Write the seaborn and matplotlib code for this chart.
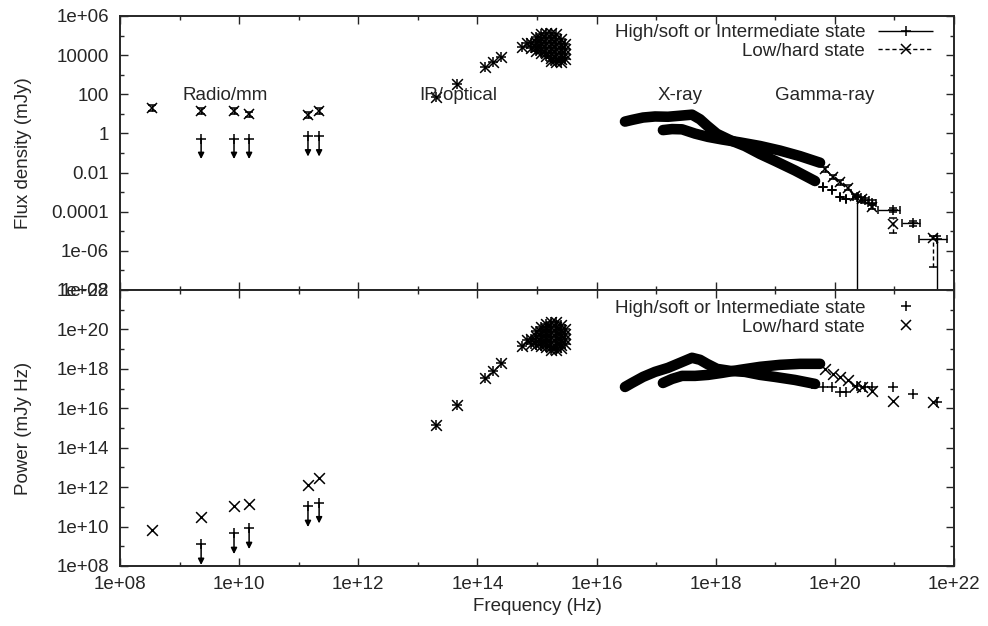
import numpy as np
import matplotlib
matplotlib.use("Agg")
import matplotlib.pyplot as plt
import seaborn as sns
from matplotlib.legend_handler import HandlerErrorbar
from matplotlib.lines import Line2D
from matplotlib.ticker import NullFormatter

# ---------------------------------------------------------------- data
# Radio/mm detections, low/hard state (frequency in Hz, flux density in mJy)
radio_lh_nu = [3.4e8, 2.3e9, 8.2e9, 1.47e10, 1.43e11, 2.2e11]
radio_lh_F = [20, 14, 14, 9.8, 8.7, 14]
radio_lh_Flo = [14, 10, 10, 7.0, 6.3, 10]
radio_lh_Fhi = [27, 19, 19, 13, 12, 19]

# Radio/mm upper limits, high/soft state
radio_hs_ul_nu = [2.3e9, 8.2e9, 1.47e10, 1.43e11, 2.2e11]
radio_hs_ul_F = [0.55, 0.55, 0.55, 0.74, 0.74]

# IR/optical points (same in both states)
ir_nu = [2.02e13, 4.5e13, 1.34e14, 1.82e14, 2.49e14, 5.6e14, 6.8e14]
ir_F = [72, 330, 2480, 4470, 7950, 25700, 41500]

# dense optical/UV cluster (both states)
uv_nu = [7.93e14, 7.93e14,
         9.62e14, 9.62e14, 9.62e14, 9.62e14,
         1.17e15, 1.17e15, 1.17e15, 1.17e15, 1.17e15,
         1.42e15, 1.42e15, 1.42e15, 1.42e15, 1.42e15, 1.42e15,
         1.72e15, 1.72e15, 1.72e15, 1.72e15, 1.72e15, 1.72e15, 1.72e15,
         2.08e15, 2.08e15, 2.08e15, 2.08e15, 2.08e15, 2.08e15, 2.08e15,
         2.53e15, 2.53e15, 2.53e15, 2.53e15, 2.53e15, 2.53e15,
         2.95e15, 2.95e15, 2.95e15, 2.95e15]
uv_F = [4.2e4, 2.3e4,
        8.5e4, 4.7e4, 2.6e4, 1.63e4,
        1.2e5, 6.7e4, 3.7e4, 2.06e4, 1.29e4,
        1.35e5, 7.5e4, 4.2e4, 2.3e4, 1.29e4, 9.0e3,
        1.35e5, 7.5e4, 4.2e4, 2.3e4, 1.29e4, 7.1e3, 5.0e3,
        1.2e5, 6.7e4, 3.7e4, 2.06e4, 1.14e4, 6.4e3, 4.5e3,
        6.7e4, 3.7e4, 2.06e4, 1.14e4, 6.4e3, 4.5e3,
        3.7e4, 2.06e4, 1.14e4, 6.4e3]

# X-ray spectra
xray_hs_nu = [3.0e16, 3.94e16, 6.03e16, 9.57e16, 1.58e17, 2.52e17, 4.0e17, 5.45e17,
              7.14e17, 1.05e18, 1.74e18, 3.10e18, 5.55e18, 9.9e18, 2.14e19, 4.65e19]
xray_hs_F = [4.03, 4.91, 6.49, 7.35, 7.11, 8.04, 9.10, 5.28,
             2.52, 0.95, 0.455, 0.226, 0.0891, 0.0394, 0.0128, 0.0037]
xray_lh_nu = [1.30e17, 1.85e17, 2.72e17, 4.49e17, 7.43e17, 1.28e18, 2.56e18, 5.55e18,
              1.20e19, 2.60e19, 5.64e19]
xray_lh_F = [1.48, 1.67, 1.62, 0.98, 0.665, 0.49, 0.348, 0.228,
             0.133, 0.0692, 0.0319]

# Gamma-ray points, high/soft state
gam_hs_nu = [4.14e19, 6.32e19, 8.95e19, 1.22e20, 1.54e20, 2.36e20, 3.21e20, 4.21e20,
             9.46e20, 2.05e21, 5.19e21]
gam_hs_F = [4.15e-3, 1.91e-3, 1.35e-3, 5.5e-4, 4.37e-4, 5.77e-4, 3.77e-4, 2.87e-4,
            1.28e-4, 2.58e-5, 3.99e-6]
gam_hs_Flo = [4.15e-3, 1.91e-3, 1.35e-3, 5.5e-4, 4.37e-4, 1e-10, 2.8e-4, 2.1e-4,
              1.0e-4, 1.9e-5, 1e-10]
gam_hs_Fhi = [4.15e-3, 1.91e-3, 1.35e-3, 5.5e-4, 4.37e-4, 7.5e-4, 5.0e-4, 3.9e-4,
              1.6e-4, 3.5e-5, 5.5e-6]
gam_hs_nulo = [4.14e19, 6.32e19, 8.95e19, 1.22e20, 1.54e20, 2.05e20, 2.8e20, 3.65e20,
               5.3e20, 1.34e21, 2.6e21]
gam_hs_nuhi = [4.14e19, 6.32e19, 8.95e19, 1.22e20, 1.54e20, 2.7e20, 3.7e20, 4.85e20,
               1.24e21, 2.7e21, 7.6e21]

# Gamma-ray points, low/hard state
gam_lh_nu = [6.84e19, 9.31e19, 1.22e20, 1.66e20, 2.18e20, 2.86e20, 4.21e20, 9.46e20, 4.45e21]
gam_lh_F = [0.0146, 5.97e-3, 3.2e-3, 1.65e-3, 6.24e-4, 4.23e-4, 1.79e-4, 2.46e-5, 4.66e-6]
gam_lh_Flo = [0.011, 4.5e-3, 2.4e-3, 1.24e-3, 4.7e-4, 3.2e-4, 1.35e-4, 8.2e-6, 1.5e-7]
gam_lh_Fhi = [0.0193, 7.9e-3, 4.2e-3, 2.2e-3, 8.3e-4, 5.6e-4, 2.4e-4, 4.8e-5, 6.0e-6]

# region labels (placed in the flux panel)
region_names = ["Radio/mm", "IR/optical", "X-ray", "Gamma-ray"]
region_nu = [5.8e9, 4.7e13, 2.5e17, 6.8e19]
region_F = [85, 85, 85, 85]

# axes ticks
x_ticks = [1e8, 1e10, 1e12, 1e14, 1e16, 1e18, 1e20, 1e22]
x_tick_labels = ["1e+08", "1e+10", "1e+12", "1e+14", "1e+16", "1e+18", "1e+20", "1e+22"]
x_minor = [1e9, 1e11, 1e13, 1e15, 1e17, 1e19, 1e21]
flux_ticks = [1e-8, 1e-6, 1e-4, 1e-2, 1, 1e2, 1e4, 1e6]
flux_tick_labels = ["1e-08", "1e-06", "0.0001", "0.01", "1", "100", "10000", "1e+06"]
flux_minor = [1e-7, 1e-5, 1e-3, 1e-1, 10, 1e3, 1e5]
power_ticks = [1e8, 1e10, 1e12, 1e14, 1e16, 1e18, 1e20, 1e22]
power_tick_labels = ["1e+08", "1e+10", "1e+12", "1e+14", "1e+16", "1e+18", "1e+20", "1e+22"]
power_minor = [1e9, 1e11, 1e13, 1e15, 1e17, 1e19, 1e21]

label_hs = "High/soft or Intermediate state"
label_lh = "Low/hard state"

# ---------------------------------------------------------------- style
sns.set_style("ticks")
plt.rcParams["font.family"] = ["Liberation Sans", "DejaVu Sans"]
plt.rcParams["font.size"] = 13.5
plt.rcParams["axes.linewidth"] = 1.4

MS = 60        # scatter marker area
MSZ = 7.5      # errorbar marker size
BAND_LW = 7.6
ARROW_DEC = 1.05

fig = plt.figure(figsize=(9.88, 6.26), dpi=100)
ax1 = fig.add_axes([120 / 988, 1 - 290 / 626, 834 / 988, 274 / 626])
ax2 = fig.add_axes([120 / 988, 1 - 566 / 626, 834 / 988, 276 / 626])

for ax in (ax1, ax2):
    ax.set_xscale("log")
    ax.set_yscale("log")


def arr(v):
    return np.asarray(v, dtype=float)


def draw(ax, power):
    def val(nu, F):
        return arr(nu) * arr(F) if power else arr(F)

    # X-ray bands
    for nu, F in ((xray_hs_nu, xray_hs_F), (xray_lh_nu, xray_lh_F)):
        sns.lineplot(x=arr(nu), y=val(nu, F), ax=ax, color="black", lw=BAND_LW,
                     estimator=None, sort=False, solid_capstyle="round", zorder=2)
    # points in both states
    for nu, F in ((ir_nu, ir_F), (uv_nu, uv_F)):
        sns.scatterplot(x=arr(nu), y=val(nu, F), ax=ax, marker="+", s=MS,
                        color="black", linewidth=1.1, zorder=3)
        sns.scatterplot(x=arr(nu), y=val(nu, F), ax=ax, marker="x", s=MS,
                        color="black", linewidth=1.1, zorder=3)
    # radio upper limits (high/soft)
    ul = val(radio_hs_ul_nu, radio_hs_ul_F)
    sns.scatterplot(x=arr(radio_hs_ul_nu), y=ul, ax=ax, marker="+", s=MS,
                    color="black", linewidth=1.1, zorder=3)
    for n, v in zip(radio_hs_ul_nu, ul):
        ax.annotate("", xy=(n, v / 10 ** ARROW_DEC), xytext=(n, v),
                    arrowprops=dict(arrowstyle="-|>", color="black", lw=1.1,
                                    mutation_scale=9, shrinkA=0, shrinkB=0))

    if not power:
        # flux panel: error bars
        F = arr(radio_lh_F)
        ax.errorbar(radio_lh_nu, F, yerr=[F - arr(radio_lh_Flo), arr(radio_lh_Fhi) - F],
                    fmt="x", color="black", ms=MSZ, mew=1.1, elinewidth=1.0,
                    capsize=3, zorder=3)
        F = arr(gam_hs_F)
        nu = arr(gam_hs_nu)
        ax.errorbar(nu, F, yerr=[F - arr(gam_hs_Flo), arr(gam_hs_Fhi) - F],
                    xerr=[nu - arr(gam_hs_nulo), arr(gam_hs_nuhi) - nu],
                    fmt="+", color="black", ms=MSZ, mew=1.1, elinewidth=1.0,
                    capsize=3, zorder=3)
        F = arr(gam_lh_F)
        eb = ax.errorbar(gam_lh_nu, F, yerr=[F - arr(gam_lh_Flo), arr(gam_lh_Fhi) - F],
                         fmt="x", color="black", ms=MSZ, mew=1.1, elinewidth=1.0,
                         capsize=3, zorder=3)
        for c in eb[2]:
            c.set_linestyle((0, (3, 2)))
    else:
        sns.scatterplot(x=arr(radio_lh_nu), y=val(radio_lh_nu, radio_lh_F), ax=ax,
                        marker="x", s=MS, color="black", linewidth=1.1, zorder=3)
        sns.scatterplot(x=arr(gam_hs_nu), y=val(gam_hs_nu, gam_hs_F), ax=ax,
                        marker="+", s=MS, color="black", linewidth=1.1, zorder=3)
        sns.scatterplot(x=arr(gam_lh_nu), y=val(gam_lh_nu, gam_lh_F), ax=ax,
                        marker="x", s=MS, color="black", linewidth=1.1, zorder=3)


draw(ax1, False)
draw(ax2, True)

# axes limits / ticks
for ax in (ax1, ax2):
    ax.set_xlim(1e8, 1e22)
    ax.set_xticks(x_ticks)
    ax.set_xticks(x_minor, minor=True)
    ax.xaxis.set_minor_formatter(NullFormatter())
    ax.tick_params(which="both", direction="in", top=True, right=True, width=1.0)
    ax.tick_params(which="major", length=6)
    ax.tick_params(which="minor", length=3)
    ax.tick_params(axis="y", pad=8)
    for s in ax.spines.values():
        s.set_linewidth(1.4)

ax1.set_ylim(1e-8, 1e6)
ax1.set_yticks(flux_ticks, flux_tick_labels)
ax1.set_yticks(flux_minor, minor=True)
ax1.yaxis.set_minor_formatter(NullFormatter())
ax1.set_xticklabels([])

ax2.set_ylim(1e8, 1e22)
ax2.set_yticks(power_ticks, power_tick_labels)
ax2.set_yticks(power_minor, minor=True)
ax2.yaxis.set_minor_formatter(NullFormatter())
ax2.set_xticks(x_ticks, x_tick_labels)
ax2.tick_params(axis="x", pad=7)

ax1.set_ylabel("Flux density (mJy)")
ax1.yaxis.set_label_coords(-0.1055, 0.5)
ax2.set_ylabel("Power (mJy Hz)")
ax2.yaxis.set_label_coords(-0.1055, 0.5)
ax2.set_xlabel("Frequency (Hz)")
ax2.xaxis.set_label_coords(0.5, -0.115)

for name, n, f in zip(region_names, region_nu, region_F):
    ax1.text(n, f, name, ha="center", va="center", zorder=5)

# legends
h_hs = ax1.errorbar([], [], xerr=[], fmt="+", color="black", ms=MSZ, mew=1.1,
                    elinewidth=1.0, capsize=3)
h_lh = ax1.errorbar([], [], xerr=[], fmt="x", color="black", ms=MSZ, mew=1.1,
                    elinewidth=1.0, capsize=3)
for c in h_lh[2]:
    c.set_linestyle((0, (3, 2)))
ax1.legend([h_hs, h_lh], [label_hs, label_lh], loc="upper right",
           bbox_to_anchor=(0.975, 0.97), frameon=False, markerfirst=False,
           handlelength=2.93, handletextpad=0.7, borderpad=0, borderaxespad=0,
           labelspacing=0.08,
           handler_map={h_hs: HandlerErrorbar(xerr_size=1.45),
                        h_lh: HandlerErrorbar(xerr_size=1.45)})

p_hs = Line2D([], [], ls="none", marker="+", color="black", ms=MSZ, mew=1.1)
p_lh = Line2D([], [], ls="none", marker="x", color="black", ms=MSZ, mew=1.1)
ax2.legend([p_hs, p_lh], [label_hs, label_lh], loc="upper right",
           bbox_to_anchor=(0.975, 0.964), frameon=False, markerfirst=False,
           handlelength=2.93, handletextpad=0.7, borderpad=0, borderaxespad=0,
           labelspacing=0.08)

fig.savefig("out.png", dpi=100)
